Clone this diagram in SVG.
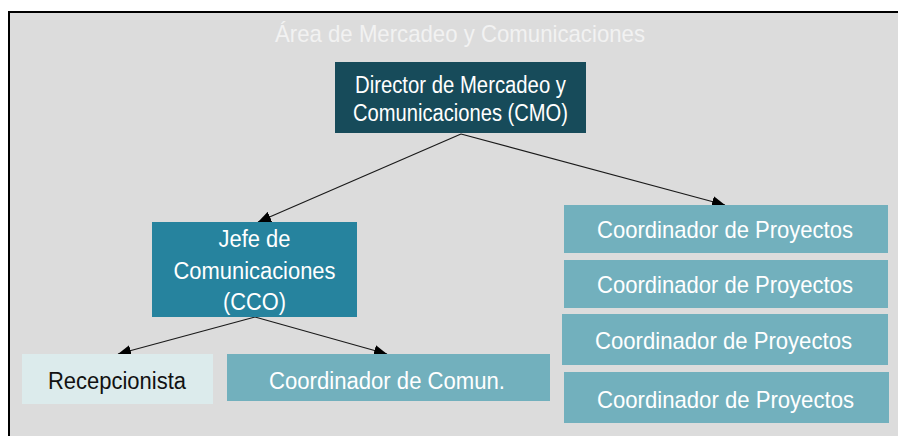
<svg xmlns="http://www.w3.org/2000/svg" width="898" height="436" viewBox="0 0 898 436">
<style>
  text { font-family: "Liberation Sans", Arial, sans-serif; text-anchor: middle; }
  .w { fill: #ffffff; }
  .t23 { font-size: 23px; }
  .t24 { font-size: 24px; }
  .conn { stroke: #1a1a1a; stroke-width: 1.2; fill: none; marker-end: url(#arr); }
  .proj { fill: #72b0bd; }
</style>
<defs>
  <marker id="arr" markerUnits="userSpaceOnUse" markerWidth="14" markerHeight="11" refX="13" refY="5.5" orient="auto">
    <path d="M0,0 L13,5.5 L0,11 Z" fill="#000"/>
  </marker>
</defs>
<rect x="0" y="0" width="898" height="436" fill="#ffffff"/>
<rect id="frame" x="9" y="12" width="900" height="430" fill="#dcdcdc" stroke="#000" stroke-width="2"/>
<text id="title" x="460" y="42" font-size="24" fill="#f2f2f2" textLength="370" lengthAdjust="spacingAndGlyphs">Área de Mercadeo y Comunicaciones</text>

<g id="connectors">
  <line class="conn" x1="461" y1="134" x2="258" y2="222"/>
  <line class="conn" x1="461" y1="134" x2="725" y2="205"/>
  <line class="conn" x1="255" y1="317" x2="118" y2="354"/>
  <line class="conn" x1="255" y1="317" x2="387" y2="354"/>
</g>

<g id="cmo">
  <rect x="335" y="62" width="251" height="71" fill="#174b5a"/>
  <text class="w t23" x="460.5" y="93" textLength="211" lengthAdjust="spacingAndGlyphs">Director de Mercadeo y</text>
  <text class="w t23" x="460.5" y="121" textLength="215" lengthAdjust="spacingAndGlyphs">Comunicaciones (CMO)</text>
</g>

<g id="cco">
  <rect x="152" y="222" width="205" height="95" fill="#26839e"/>
  <text class="w t23" x="254.5" y="247" textLength="72" lengthAdjust="spacingAndGlyphs">Jefe de</text>
  <text class="w t23" x="254.5" y="279" textLength="162" lengthAdjust="spacingAndGlyphs">Comunicaciones</text>
  <text class="w t23" x="254.5" y="310" textLength="63" lengthAdjust="spacingAndGlyphs">(CCO)</text>
</g>

<g id="recepcionista">
  <rect x="22" y="354" width="191" height="50" fill="#dcebec"/>
  <text class="t23" x="117" y="389" fill="#111" textLength="138" lengthAdjust="spacingAndGlyphs">Recepcionista</text>
</g>

<g id="coord-comun">
  <rect x="227" y="354" width="323" height="47" class="proj"/>
  <text class="w t23" x="387" y="389" textLength="236" lengthAdjust="spacingAndGlyphs">Coordinador de Comun.</text>
</g>

<g id="proy1">
  <rect x="564" y="205" width="324" height="48" class="proj"/>
  <text class="w t24" x="725" y="238" textLength="256" lengthAdjust="spacingAndGlyphs">Coordinador de Proyectos</text>
</g>
<g id="proy2">
  <rect x="564" y="260" width="324" height="48" class="proj"/>
  <text class="w t24" x="725" y="293" textLength="256" lengthAdjust="spacingAndGlyphs">Coordinador de Proyectos</text>
</g>
<g id="proy3">
  <rect x="562" y="314" width="326" height="51" class="proj"/>
  <text class="w t24" x="723.5" y="349" textLength="257" lengthAdjust="spacingAndGlyphs">Coordinador de Proyectos</text>
</g>
<g id="proy4">
  <rect x="564" y="372" width="325" height="51" class="proj"/>
  <text class="w t24" x="725.5" y="408" textLength="257" lengthAdjust="spacingAndGlyphs">Coordinador de Proyectos</text>
</g>
</svg>
